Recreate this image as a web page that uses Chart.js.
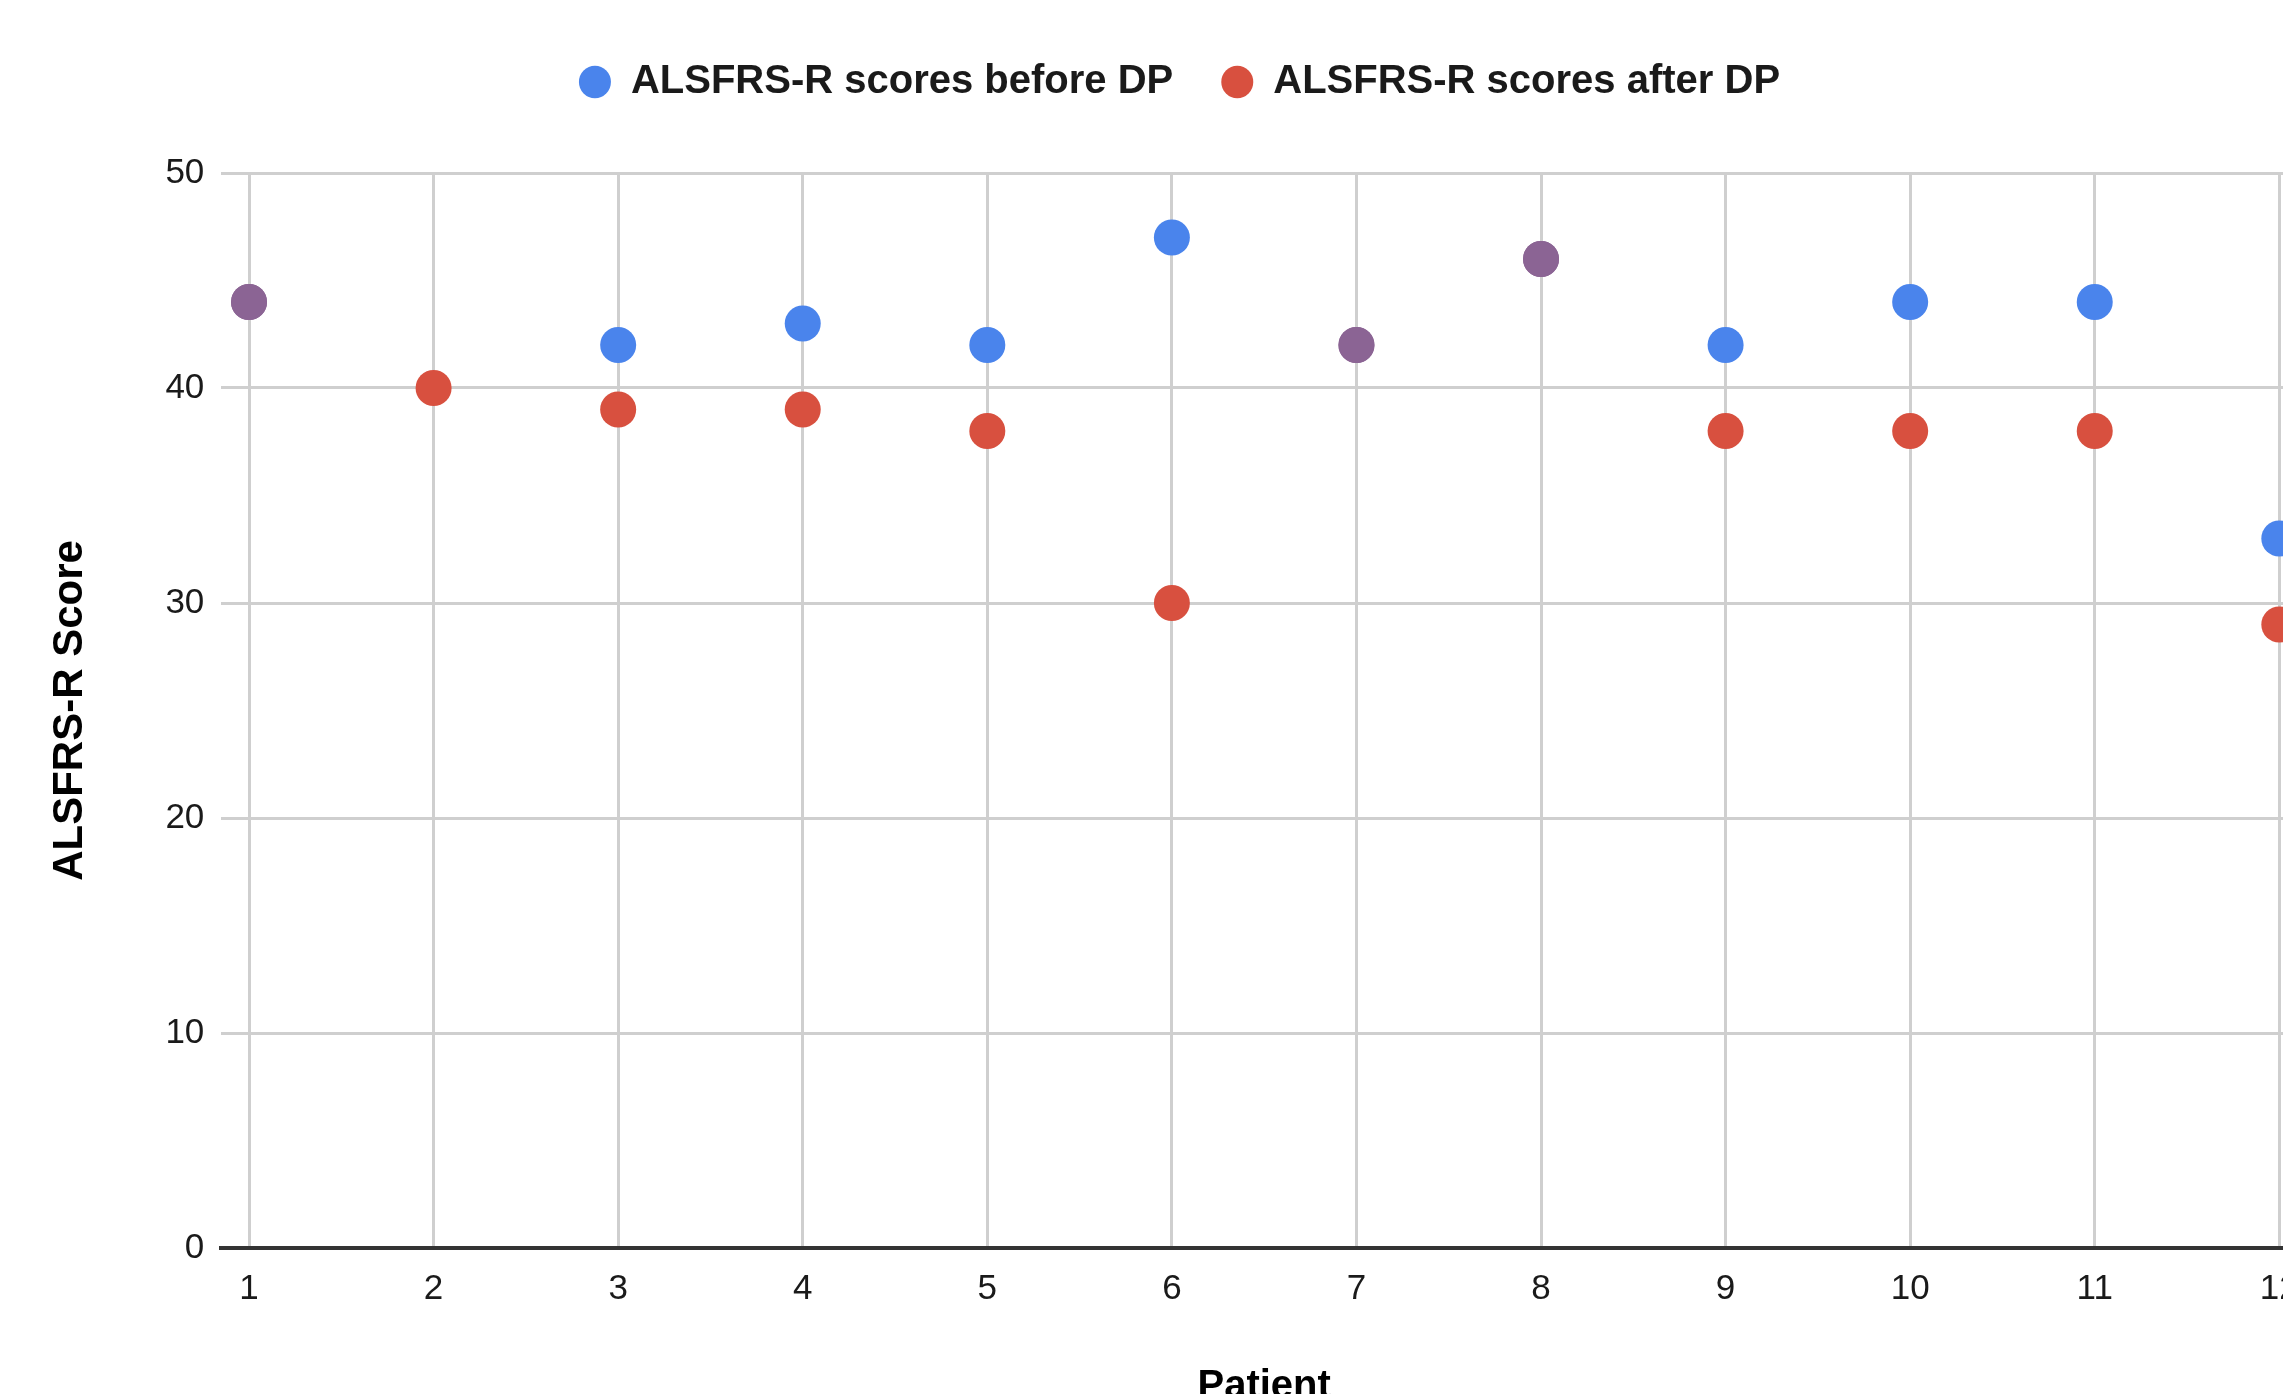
<!DOCTYPE html>
<html>
<head>
<meta charset="utf-8">
<title>ALSFRS-R scores before and after DP</title>
<script src="https://cdn.jsdelivr.net/npm/chart.js@4.4.1/dist/chart.umd.min.js"></script>
<style>
    html, body {
        margin: 0;
        padding: 0;
        background: #ffffff;
        overflow: hidden;
    }
    #wrap {
        width: 2358px;
        height: 1440px;
    }
</style>
</head>
<body>
<div id="wrap">
    <canvas id="scoreChart" width="2358" height="1440"></canvas>
</div>
<script>
// Patients on the x axis
const patients = [1, 2, 3, 4, 5, 6, 7, 8, 9, 10, 11, 12];

// ALSFRS-R scores (null = no point shown)
const scoresBefore = [44, null, 42, 43, 42, 47, 42, 46, 42, 44, 44, 33];
const scoresAfter = [44, 40, 39, 39, 38, 30, 42, 46, 38, 38, 38, 29];

// y axis ticks
const scoreTicks = [0, 10, 20, 30, 40, 50];

const blue = '#4a84ec';
const red = '#d8503f';
const purple = '#8b6494';
const fontFamily = "'Liberation Sans', Arial, Helvetica, sans-serif";

// Build {x, y} points for the scatter
function toPoints(values) {
    return patients.map((p, i) => ({ x: p, y: values[i] }));
}

// where both series sit on the same spot the dot shows as purple
function pointColors(values, base) {
    return values.map((v, i) => (scoresBefore[i] !== null && scoresBefore[i] === scoresAfter[i]) ? purple : base);
}

// Extra room below the legend, and nudge it a bit to the right
const legendGap = {
    id: 'legendGap',
    beforeInit(chart) {
        const fit = chart.legend.fit;
        chart.legend.fit = function () {
            fit.bind(chart.legend)();
            this.height += 61;
        };
    },
    afterLayout(chart) {
        chart.legend.left += 26;
        chart.legend.right += 26;
    }
};

const ctx = document.getElementById('scoreChart').getContext('2d');

new Chart(ctx, {
    type: 'scatter',
    data: {
        datasets: [{
            label: 'ALSFRS-R scores before DP',
            data: toPoints(scoresBefore),
            backgroundColor: blue,
            pointBackgroundColor: pointColors(scoresBefore, blue),
            borderWidth: 0,
            pointRadius: 18,
            pointHoverRadius: 18
        }, {
            label: 'ALSFRS-R scores after DP',
            data: toPoints(scoresAfter),
            backgroundColor: red,
            pointBackgroundColor: pointColors(scoresAfter, red),
            borderWidth: 0,
            pointRadius: 18,
            pointHoverRadius: 18
        }]
    },
    options: {
        responsive: false,
        devicePixelRatio: 1,
        animation: false,
        layout: {
            padding: { top: 14, right: 51, bottom: 29, left: 0 }
        },
        plugins: {
            legend: {
                position: 'top',
                align: 'center',
                labels: {
                    usePointStyle: true,
                    pointStyle: 'circle',
                    boxHeight: 23,
                    pointStyleWidth: 32,
                    padding: 48,
                    color: '#1a1a1a',
                    font: { family: fontFamily, size: 40, weight: 'bold' },
                    generateLabels(chart) {
                        return chart.data.datasets.map((ds, i) => ({
                            text: ds.label,
                            fillStyle: ds.backgroundColor,
                            strokeStyle: ds.backgroundColor,
                            lineWidth: 0,
                            pointStyle: 'circle',
                            fontColor: '#1a1a1a',
                            datasetIndex: i,
                            hidden: false
                        }));
                    }
                }
            },
            tooltip: { enabled: false }
        },
        scales: {
            x: {
                type: 'linear',
                min: 0.85,
                max: 12.15,
                afterBuildTicks(axis) {
                    axis.ticks = patients.map(v => ({ value: v }));
                },
                grid: {
                    color: '#cfcfcf',
                    lineWidth: 3,
                    drawTicks: false
                },
                border: {
                    display: true,
                    color: '#333333',
                    width: 4
                },
                ticks: {
                    padding: 20,
                    color: '#1a1a1a',
                    font: { family: fontFamily, size: 35 }
                },
                title: {
                    display: true,
                    text: 'Patient',
                    color: '#000000',
                    font: { family: fontFamily, size: 40, weight: 'bold' },
                    padding: { top: 33, bottom: 0 }
                }
            },
            y: {
                type: 'linear',
                min: 0,
                max: 50,
                afterBuildTicks(axis) {
                    axis.ticks = scoreTicks.map(v => ({ value: v }));
                },
                grid: {
                    color: '#cfcfcf',
                    lineWidth: 3,
                    drawTicks: false
                },
                border: { display: false },
                ticks: {
                    padding: 17,
                    color: '#1a1a1a',
                    font: { family: fontFamily, size: 35 }
                },
                title: {
                    display: true,
                    text: 'ALSFRS-R Score',
                    color: '#000000',
                    font: { family: fontFamily, size: 42, weight: 'bold' },
                    padding: { top: 45, bottom: 53 }
                }
            }
        }
    },
    plugins: [legendGap]
});
</script>
</body>
</html>
